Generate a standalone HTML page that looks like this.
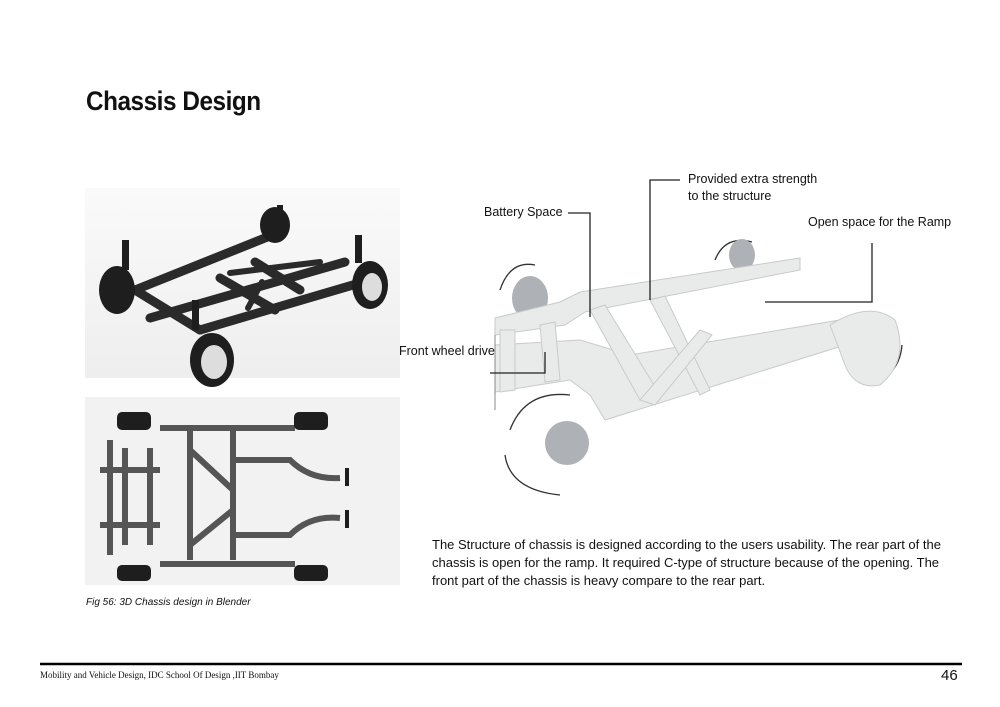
<!DOCTYPE html>
<html><head><meta charset="utf-8"><style>
body{margin:0;background:#fff;width:1000px;height:707px;position:relative;overflow:hidden;font-family:"Liberation Sans",sans-serif}
.t{position:absolute;white-space:nowrap;color:#111}
</style></head><body>
<div class="t" style="left:86px;top:86px;font-size:27px;font-weight:bold;letter-spacing:-0.5px;transform:scaleX(0.9);transform-origin:left">Chassis Design</div>

<svg style="position:absolute;left:0;top:0" width="1000" height="707">
<defs>
<linearGradient id="g1" x1="0" y1="0" x2="0" y2="1"><stop offset="0" stop-color="#fafafa"/><stop offset="1" stop-color="#eeeeee"/></linearGradient>
</defs>
<rect x="85" y="188" width="315" height="190" fill="url(#g1)"/>
<g stroke="#2a2a2a" stroke-width="9" stroke-linecap="round" fill="none">
<path d="M135 290 L280 232"/><path d="M150 318 L345 262"/><path d="M200 330 L370 280"/>
<path d="M135 290 L200 330"/><path d="M220 278 L275 310"/><path d="M255 262 L300 290"/>
<path d="M230 273 L320 262" stroke-width="6"/><path d="M262 282 L248 308" stroke-width="6"/>
</g>
<g fill="#1e1e1e"><ellipse cx="117" cy="290" rx="18" ry="24"/><ellipse cx="212" cy="360" rx="22" ry="27"/><ellipse cx="370" cy="285" rx="18" ry="24"/><ellipse cx="275" cy="225" rx="15" ry="18"/>
<rect x="122" y="240" width="7" height="30"/><rect x="192" y="300" width="7" height="30"/><rect x="355" y="235" width="7" height="28"/><rect x="277" y="205" width="6" height="22"/></g>
<g fill="#ddd"><ellipse cx="214" cy="362" rx="13" ry="17"/><ellipse cx="372" cy="287" rx="10" ry="14"/></g>
<rect x="85" y="397" width="315" height="188" fill="#f2f2f2"/>
<g stroke="#555" stroke-width="6" fill="none">
<path d="M160 428 H295"/><path d="M160 564 H295"/><path d="M110 440 V555"/><path d="M125 448 V545"/><path d="M150 448 V545"/>
<path d="M190 430 V560"/><path d="M233 430 V560"/><path d="M190 450 L233 490"/><path d="M190 545 L233 510"/>
<path d="M233 460 H290 Q310 480 340 478"/><path d="M233 535 H290 Q310 515 340 518"/><path d="M100 470 H160"/><path d="M100 525 H160"/>
</g>
<g fill="#1e1e1e"><rect x="117" y="412" width="34" height="18" rx="5"/><rect x="117" y="565" width="34" height="16" rx="5"/><rect x="294" y="412" width="34" height="18" rx="5"/><rect x="294" y="565" width="34" height="16" rx="5"/>
<rect x="345" y="468" width="4" height="18"/><rect x="345" y="510" width="4" height="18"/></g>

<g stroke="#333" stroke-width="1.3" fill="none">
<path d="M500 290 Q510 260 535 265"/><path d="M715 260 Q725 235 752 242"/>
<path d="M510 430 Q525 390 570 395"/><path d="M505 455 Q510 490 560 495"/>
<path d="M850 320 Q880 305 898 330"/><path d="M880 380 Q900 370 902 345"/>
</g>
<g fill="#aeb2b6"><ellipse cx="530" cy="298" rx="18" ry="22"/><ellipse cx="742" cy="255" rx="13" ry="16"/><ellipse cx="567" cy="443" rx="22" ry="22"/><ellipse cx="880" cy="354" rx="10" ry="14"/></g>
<g fill="#e9ebea" stroke="#c8cbc9" stroke-width="1">
<path d="M495 318 L560 302 L580 292 L800 258 L800 270 L585 312 L565 325 L495 335 Z"/>
<path d="M495 345 L580 340 L630 355 L840 320 L845 345 L605 420 L590 395 L570 380 L495 392 Z"/>
<path d="M590 310 L605 305 L660 395 L640 400 Z"/>
<path d="M650 300 L665 296 L710 390 L700 395 Z"/>
<path d="M640 400 L700 330 L712 335 L655 405 Z"/>
<path d="M500 330 L515 330 L515 390 L500 392 Z"/><path d="M540 325 L555 322 L560 380 L545 382 Z"/>
<path d="M830 325 Q870 300 895 320 Q910 360 880 385 Q855 390 845 365 Z"/>
</g>
<path d="M495 335 L495 410" stroke="#888" stroke-width="1" fill="none"/>
<g stroke="#222" stroke-width="1.3" fill="none">
<path d="M568 213 H590 V317"/>
<path d="M680 180 H650 V300"/>
<path d="M872 243 V302 H765"/>
<path d="M545 352 V373 H490"/>
</g>
<line x1="40" y1="664" x2="962" y2="664" stroke="#000" stroke-width="2.5"/>
</svg>

<div class="t" style="left:484px;top:205px;font-size:12.5px">Battery Space</div>
<div class="t" style="left:688px;top:171px;font-size:12.5px;line-height:17px">Provided extra strength<br>to the structure</div>
<div class="t" style="left:808px;top:215px;font-size:12.5px">Open space for the Ramp</div>
<div class="t" style="left:399px;top:344px;font-size:12.5px">Front wheel drive</div>

<div class="t" style="left:432px;top:536px;font-size:13px;line-height:18px">The Structure of chassis is designed according to the users usability. The rear part of the<br>chassis is open for the ramp. It required C-type of structure because of the opening. The<br>front part of the chassis is heavy compare to the rear part.</div>

<div class="t" style="left:86px;top:597px;font-size:10px;font-style:italic">Fig 56: 3D Chassis design in Blender</div>
<div class="t" style="left:40px;top:670px;font-size:9px;font-family:'Liberation Serif',serif">Mobility and Vehicle Design, IDC School Of Design ,IIT Bombay</div>
<div class="t" style="left:941px;top:667px;font-size:15px">46</div>
</body></html>
